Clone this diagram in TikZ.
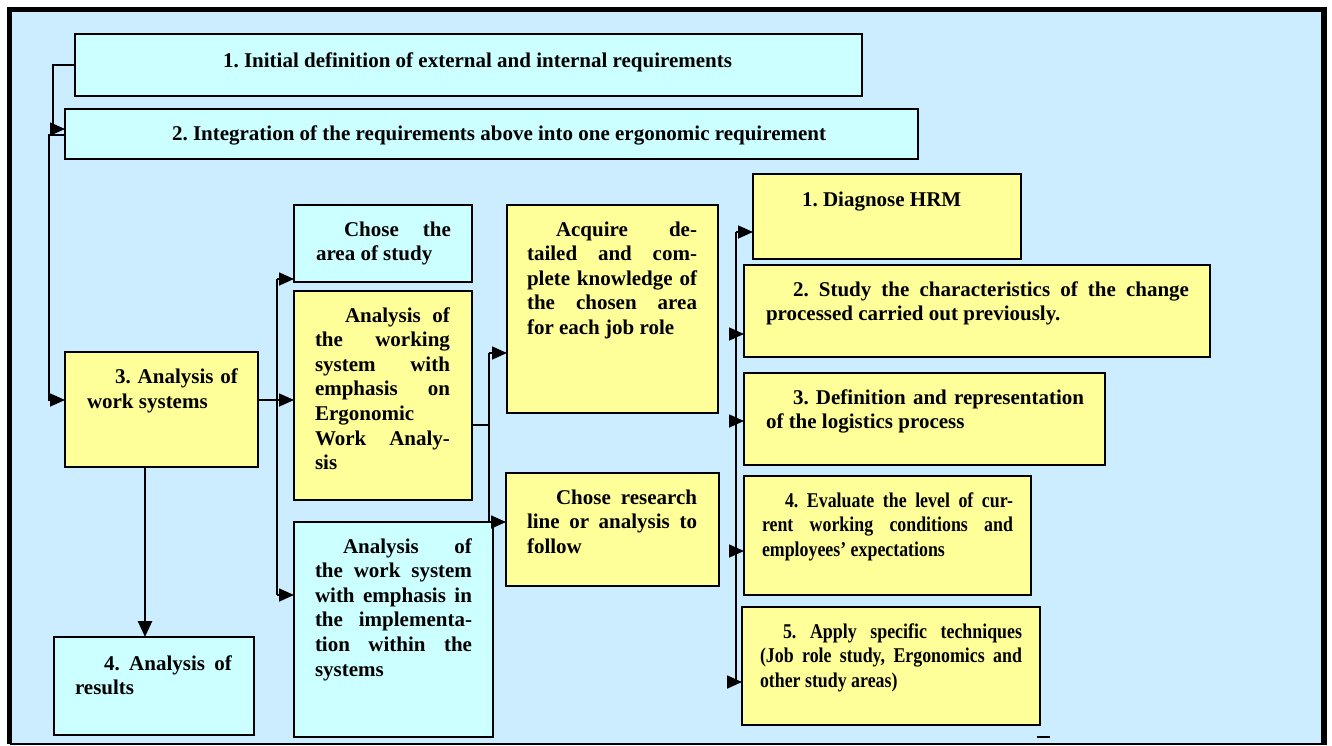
\documentclass[tikz,border=0pt]{standalone}
\usepackage{fontspec}
\setmainfont{Liberation Serif}
\newfontfamily\condfont[FakeStretch=0.85]{Liberation Serif}
\usetikzlibrary{arrows.meta}
\definecolor{bgblue}{RGB}{204,236,255}
\definecolor{cyanbox}{RGB}{204,255,255}
\definecolor{yelbox}{RGB}{255,255,153}
\frenchspacing
\newcommand{\txtpara}[2]{\vtop{\hsize=#1\relax\parindent=0pt\parskip=0pt\leftskip=0pt\rightskip=0pt #2}}
\newcommand{\jusline}[1]{\noindent\hbox to \hsize{\spaceskip=0.25em plus 1fil\relax #1}\par}
\newcommand{\indline}[2]{\noindent\hbox to \hsize{\spaceskip=0.25em plus 1fil\relax\hskip #1\relax #2}\par}
\newcommand{\lastline}[1]{\noindent\hbox{#1}\par}
\tikzset{
  box/.style={draw=black, line width=2.2pt, inner sep=0pt, outer sep=0pt, anchor=north west},
  cbox/.style={box, fill=cyanbox},
  ybox/.style={box, fill=yelbox},
  txt/.style={inner sep=0pt, outer sep=0pt, anchor=base west, font=\fontsize{21}{24.6}\selectfont\bfseries},
  ctxt/.style={txt, font=\condfont\fontsize{21}{24.8}\selectfont\bfseries},
  conn/.style={line width=1.6pt},
  arr/.style={conn, -{Triangle[length=15pt,width=13pt]}}
}
\begin{document}
\begin{tikzpicture}[x=1pt,y=-1pt]
\useasboundingbox (0,0) rectangle (1332,745);
\fill[white] (0,0) rectangle (1332,745);
\fill[bgblue] (10,10) rectangle (1324,744);
\draw[line width=5.5pt] (9.7,744) -- (9.7,9.5) -- (1324,9.5) -- (1324,744);
\draw[line width=2.2pt] (9.7,744.3) -- (1326.7,744.3);

% boxes
\node[cbox, minimum width=787pt, minimum height=62pt] (b1) at (75,34) {};
\node[cbox, minimum width=853pt, minimum height=50pt] (b2) at (65,109) {};
\node[ybox, minimum width=193pt, minimum height=115pt] (b3) at (65,352) {};
\node[cbox, minimum width=200pt, minimum height=98pt] (b4) at (54,637) {};
\node[cbox, minimum width=178pt, minimum height=77pt] (ca) at (294,205) {};
\node[ybox, minimum width=178pt, minimum height=209pt] (aw) at (294,291) {};
\node[cbox, minimum width=199pt, minimum height=215pt] (as) at (294,522) {};
\node[ybox, minimum width=211pt, minimum height=208pt] (aq) at (507,205) {};
\node[ybox, minimum width=213pt, minimum height=113pt] (cr) at (506,473) {};
\node[ybox, minimum width=268pt, minimum height=85pt] (dg) at (753,174) {};
\node[ybox, minimum width=466pt, minimum height=92pt] (st) at (744,265) {};
\node[ybox, minimum width=361pt, minimum height=92pt] (df) at (744,373) {};
\node[ybox, minimum width=287pt, minimum height=119pt] (ev) at (744,476) {};
\node[ybox, minimum width=298pt, minimum height=118pt] (ap) at (742,607) {};

% texts
\node[txt] (t1) at (223,67) {1. Initial definition of external and internal requirements};
\node[txt] (t2) at (172,140) {2. Integration of the requirements above into one ergonomic requirement};
\node[txt, font=\fontsize{21}{25.6}\selectfont\bfseries] (t3) at (87,383) {\txtpara{151pt}{\indline{28pt}{3. Analysis of}\lastline{work systems}}};
\node[txt] (t4) at (75,670) {\txtpara{157pt}{\indline{29pt}{4. Analysis of}\lastline{results}}};
\node[txt] (tca) at (316,236) {\txtpara{135pt}{\indline{28pt}{Chose the}\lastline{area of study}}};
\node[txt] (taw) at (315,322) {\txtpara{135pt}{\indline{30pt}{Analysis of}\jusline{the working}\jusline{system with}\jusline{emphasis on}\lastline{Ergonomic}\jusline{Work Analy-}\lastline{sis}}};
\node[txt] (tas) at (315,553) {\txtpara{157pt}{\indline{28pt}{Analysis of}\jusline{the work system}\jusline{with emphasis in}\jusline{the implementa-}\jusline{tion within the}\lastline{systems}}};
\node[txt] (taq) at (527,236) {\txtpara{170pt}{\indline{29pt}{Acquire de-}\jusline{tailed and com-}\jusline{plete knowledge of}\jusline{the chosen area}\lastline{for each job role}}};
\node[txt] (tcr) at (527,504) {\txtpara{170pt}{\indline{29pt}{Chose research}\jusline{line or analysis to}\lastline{follow}}};
\node[txt] (tdg) at (802,206) {1. Diagnose HRM};
\node[txt] (tst) at (766,296) {\txtpara{423pt}{\indline{27pt}{2. Study the characteristics of the change}\lastline{processed carried out previously.}}};
\node[txt] (tdf) at (766,404) {\txtpara{318pt}{\indline{27pt}{3. Definition and representation}\lastline{of the logistics process}}};
\node[ctxt] (tev) at (762,507) {\txtpara{251pt}{\indline{23pt}{4. Evaluate the level of cur-}\jusline{rent working conditions and}\lastline{employees’ expectations}}};
\node[ctxt] (tap) at (760,638) {\txtpara{262pt}{\indline{23pt}{5. Apply specific techniques}\jusline{(Job role study, Ergonomics and}\lastline{other study areas)}}};

% connectors: top part
\coordinate (b2in) at ([yshift=5pt]b2.west);
\coordinate (b2out) at ([yshift=-1pt]b2.west);
\coordinate (b3in) at ([yshift=9.5pt]b3.west);
\draw[arr] (b1.west) -- ++(-22,0) |- (b2in);
\draw[arr] (b2out) -- ++(-16,0) |- (b3in);

% 3 -> 4
\coordinate (b3down) at ([xshift=-16.5pt]b3.south);
\draw[line width=2.6pt, -{Triangle[length=16pt,width=14pt]}] (b3down) -- (b3down |- b4.north);

% 3 -> middle column
\coordinate (b3out) at ([yshift=9.5pt]b3.east);
\coordinate (bus1) at (277,0);
\coordinate (cain) at ([yshift=-35.5pt]ca.west);
\coordinate (awin) at ([yshift=-4.5pt]aw.west);
\coordinate (asin) at ([yshift=34.5pt]as.west);
\draw[conn] (b3out) -- (bus1 |- b3out);
\draw[conn] (bus1 |- cain) -- (bus1 |- asin);
\draw[arr] (bus1 |- cain) -- (cain);
\draw[arr] (bus1 |- awin) -- (awin);
\draw[arr] (bus1 |- asin) -- (asin);

% analysis working -> acquire / chose research
\coordinate (awout) at ([yshift=-29.5pt]aw.east);
\coordinate (bus2) at (489,0);
\coordinate (aqin) at ([yshift=-44pt]aq.west);
\coordinate (crin) at ([yshift=7.5pt]cr.west);
\draw[conn] (awout) -- (bus2 |- awout);
\draw[conn] (bus2 |- aqin) -- (bus2 |- crin);
\draw[arr] (bus2 |- aqin) -- (aqin);
\draw[arr] (bus2 |- crin) -- (crin);

% right bus
\coordinate (bus3) at (736,0);
\coordinate (dgin) at ([yshift=-15.5pt]dg.west);
\coordinate (stin) at ([yshift=-23pt]st.west);
\coordinate (dfin) at ([yshift=-2pt]df.west);
\coordinate (evin) at ([yshift=-15.5pt]ev.west);
\coordinate (apin) at ([yshift=-16pt]ap.west);
\draw[conn] (bus3 |- dgin) -- (bus3 |- apin);
\draw[arr] (bus3 |- dgin) -- (dgin);
\draw[arr] (bus3 |- stin) -- (stin);
\draw[arr] (bus3 |- dfin) -- (dfin);
\draw[arr] (bus3 |- evin) -- (evin);
\draw[arr] (bus3 |- apin) -- (apin);

% small stray dash
\draw[line width=2pt] (1037,737) -- (1050,737);
\end{tikzpicture}
\end{document}
